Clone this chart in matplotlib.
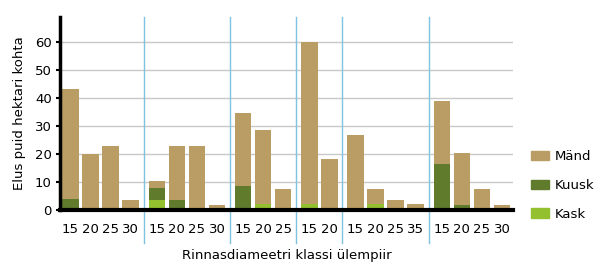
import numpy as np
import matplotlib
matplotlib.use("Agg")
import matplotlib.pyplot as plt

# diameter class labels per plot group
groups = [
    ["15", "20", "25", "30"],
    ["15", "20", "25", "30"],
    ["15", "20", "25"],
    ["15", "20"],
    ["15", "20", "25", "35"],
    ["15", "20", "25", "30"],
]

# trees per hectare, stacked bottom -> top: Kask, Kuusk, Mänd
kask = [0, 0, 0, 0,
        3.7, 0, 0, 0,
        0, 2.0, 0,
        2.0, 0,
        0, 2.0, 0, 0,
        0, 0, 0, 0]
kuusk = [3.8, 0, 0, 0,
         4.2, 3.5, 0, 0,
         8.5, 0, 0,
         0, 0,
         0, 0, 0, 0,
         16.5, 1.8, 0, 0]
mand = [39.4, 20.0, 22.8, 3.6,
        2.5, 19.3, 22.8, 1.7,
        26.1, 26.6, 7.6,
        58.0, 18.2,
        26.7, 5.6, 3.7, 2.3,
        22.6, 18.5, 7.6, 1.7]

c_mand = "#b99d64"
c_kuusk = "#5f7b2b"
c_kask = "#93c02f"
c_sep = "#7ec4e2"

gap = 0.3
xs, labels, seps = [], [], []
i = 0
for g, labs in enumerate(groups):
    for lab in labs:
        xs.append(i + g * gap)
        labels.append(lab)
        i += 1
    if g < len(groups) - 1:
        seps.append(xs[-1] + 0.5 + gap / 2)
xs = np.array(xs)

fig = plt.figure(figsize=(6, 2.66), dpi=100)
ax = fig.add_axes([0.1, 0.2105, 0.755, 0.7255])

w = 0.82
kask_a = np.array(kask)
kuusk_a = np.array(kuusk)
mand_a = np.array(mand)
ax.bar(xs, kask_a, w, color=c_kask, zorder=2)
ax.bar(xs, kuusk_a, w, bottom=kask_a, color=c_kuusk, zorder=2)
ax.bar(xs, mand_a, w, bottom=kask_a + kuusk_a, color=c_mand, zorder=2)

for y in range(10, 70, 10):
    ax.axhline(y, color="#c8c8c8", lw=1, zorder=1)
for s in seps:
    ax.axvline(s, ymin=-0.17, ymax=1, color=c_sep, lw=1, clip_on=False, zorder=3)
ax.axhline(0, color="black", lw=3, zorder=4, clip_on=False)

ax.set_xlim(xs[0] - 0.52, xs[-1] + 0.55)
ax.set_ylim(0, 69)
ax.set_yticks(range(0, 70, 10))
ax.set_xticks(xs)
ax.set_xticklabels(labels)
ax.tick_params(axis="x", length=0, pad=9, labelsize=9.5)
ax.tick_params(axis="y", length=3, width=1.5, labelsize=9.5, pad=3)

for side in ["top", "right", "bottom"]:
    ax.spines[side].set_visible(False)
ax.spines["left"].set_linewidth(2.5)

ax.set_ylabel("Elus puid hektari kohta", fontsize=9.5, labelpad=6)
ax.set_xlabel("Rinnasdiameetri klassi ülempiir", fontsize=9.5, labelpad=10)

handles = [plt.Rectangle((0, 0), 1, 1, color=c) for c in (c_mand, c_kuusk, c_kask)]
fig.legend(handles, ["Mänd", "Kuusk", "Kask"], loc="upper left",
           bbox_to_anchor=(0.866, 0.48), frameon=False, fontsize=9.5,
           labelspacing=1.2, handlelength=1.3, handleheight=0.75,
           handletextpad=0.5)

fig.savefig("out.png", dpi=100)
